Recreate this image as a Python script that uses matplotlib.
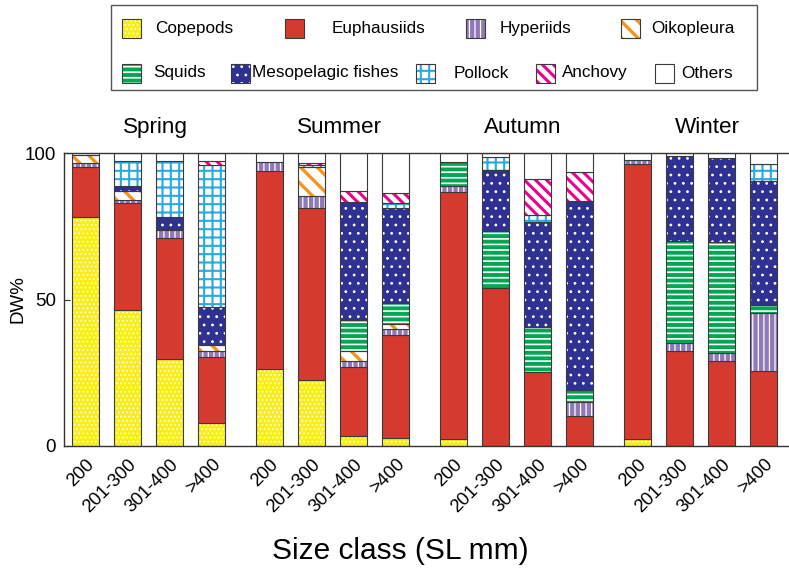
import numpy as np
import matplotlib
matplotlib.use("Agg")
import matplotlib.pyplot as plt
from matplotlib.patches import Rectangle

plt.rcParams['font.family'] = ['Liberation Sans', 'DejaVu Sans']

seasons = ["Spring", "Summer", "Autumn", "Winter"]
size_classes = ["200", "201-300", "301-400", ">400"]
categories = ["Copepods", "Euphausiids", "Hyperiids", "Oikopleura", "Squids",
              "Mesopelagic fishes", "Pollock", "Anchovy", "Others"]

# values (DW%) per bar: Spring(4), Summer(4), Autumn(4), Winter(4)
copepods    = [78.0, 46.4, 29.7, 7.7,   26.3, 22.6, 3.3, 2.7,   2.4, 0.0, 0.0, 0.0,   2.3, 0.0, 0.0, 0.0]
euphausiids = [17.1, 36.4, 41.2, 22.6,  67.7, 58.5, 23.6, 35.2, 84.4, 53.8, 25.2, 10.1, 93.9, 32.5, 28.9, 25.7]
hyperiids   = [1.4, 1.2, 2.8, 2.0,      2.8, 4.3, 2.2, 2.0,     1.8, 0.0, 0.0, 5.0,   1.4, 2.5, 2.7, 19.6]
oikopleura  = [2.8, 3.1, 0.5, 2.1,      0.0, 9.7, 3.2, 1.6,     0.0, 0.0, 0.0, 0.0,   0.0, 0.0, 0.0, 0.0]
squids      = [0.0, 0.0, 0.0, 0.0,      0.0, 0.0, 10.7, 7.4,    8.2, 19.7, 15.5, 4.1, 0.0, 34.9, 37.9, 2.9]
mesopelagic = [0.0, 1.7, 3.8, 12.9,     0.0, 0.0, 40.4, 32.3,   0.0, 20.7, 35.6, 64.3, 0.0, 29.0, 28.8, 42.3]
pollock     = [0.0, 8.6, 19.4, 48.7,    0.0, 0.9, 0.0, 1.6,     0.0, 4.3, 2.6, 0.0,   0.0, 0.0, 0.0, 5.7]
anchovy     = [0.0, 0.0, 0.0, 1.4,      0.0, 0.7, 3.7, 3.7,     0.0, 0.0, 12.2, 10.0, 0.0, 0.0, 0.0, 0.0]
others      = [0.7, 2.6, 2.6, 2.6,      3.2, 3.3, 12.9, 13.5,   3.2, 1.5, 8.9, 6.5,   2.4, 1.1, 1.7, 3.8]

series = [copepods, euphausiids, hyperiids, oikopleura, squids, mesopelagic, pollock, anchovy, others]

# style per category: facecolor, hatch, hatchcolor, hatch linewidth
styles = [
    ("#F8EE1E", "....", "white", 0.6),
    ("#D63A2F", "", "#D63A2F", 0.0),
    ("#8F79BA", "|||", "white", 0.9),
    ("white", "\\\\", "#F7941D", 2.4),
    ("white", "---", "#00A651", 2.8),
    ("#2E3192", "..", "white", 0.8),
    ("white", "++", "#29AAE1", 1.5),
    ("white", "\\\\\\", "#EC008C", 2.2),
    ("white", "", "white", 0.0),
]
edge_col = "#3a3a3a"

W, H = 789, 569
fig = plt.figure(figsize=(W / 100, H / 100), dpi=100)
ax = fig.add_axes([64.3 / W, 1 - 446 / H, 1 - 64.3 / W, (446 - 153) / H])

group_step = 4.38
pos = np.array([g * group_step + j for g in range(4) for j in range(4)])
bw = 0.643


def styled_bar(x, h, b, st):
    fc, hatch, hc, hlw = st
    with plt.rc_context({'hatch.linewidth': hlw if hlw > 0 else 1.0}):
        bars = ax.bar(x, h, bw, bottom=b, color=fc,
                      hatch=hatch if hatch else None, edgecolor=hc, linewidth=0)
    for p in bars:
        if hasattr(p, "set_hatch_linewidth") and hlw > 0:
            p.set_hatch_linewidth(hlw)
    return bars


bottom = np.zeros(len(pos))
for vals, st in zip(series, styles):
    v = np.array(vals)
    m = v > 0
    styled_bar(pos[m], v[m], bottom[m], st)
    ax.bar(pos[m], v[m], bw, bottom=bottom[m], fill=False, edgecolor=edge_col, linewidth=0.8)
    bottom += v

ax.set_xlim(-0.51, 16.74)
ax.set_ylim(0, 100)
ax.spines['right'].set_visible(False)
for s in ['left', 'bottom', 'top']:
    ax.spines[s].set_color('#333333')
    ax.spines[s].set_linewidth(1.0)
ax.set_yticks([0, 50, 100])
ax.tick_params(axis='y', direction='in', length=4, labelsize=13.5, pad=6, color='#333333')
ax.set_xticks(pos)
ax.set_xticklabels(size_classes * 4, rotation=45, ha='right', rotation_mode='anchor', fontsize=13.2)
ax.tick_params(axis='x', length=0, pad=7)
ax.set_ylabel("DW%", fontsize=13.5)
ax.yaxis.set_label_coords(-38 / (W - 64.3), 0.5)

for g, name in enumerate(seasons):
    ax.text(g * group_step + 1.5 + 0.15, 108.6, name, ha='center', va='center',
            fontsize=16.2, clip_on=False)

fig.text(400 / W, 1 - 551 / H, "Size class (SL mm)", ha='center', va='center', fontsize=21.5)

# legend (manual layout)
fig.add_artist(Rectangle((111 / W, 1 - 90 / H), (757 - 111) / W, (90 - 5) / H,
                         transform=fig.transFigure, fill=False, edgecolor='#555555', linewidth=1.0))
leg_items = [
    (0, 122, 155, 28), (1, 285, 332, 28), (2, 466, 500, 28), (3, 621, 651, 28),
    (4, 122, 153, 73), (5, 231, 252, 73), (6, 416, 454, 73), (7, 536, 562, 73), (8, 655, 681, 73),
]
ps = 19
for idx, px, tx, cy in leg_items:
    fc, hatch, hc, hlw = styles[idx]
    with plt.rc_context({'hatch.linewidth': hlw if hlw > 0 else 1.0}):
        r = Rectangle((px / W, 1 - (cy + ps / 2) / H), ps / W, ps / H, transform=fig.transFigure,
                      facecolor=fc, hatch=hatch if hatch else None, edgecolor=hc, linewidth=0)
    if hasattr(r, "set_hatch_linewidth") and hlw > 0:
        r.set_hatch_linewidth(hlw)
    fig.add_artist(r)
    fig.add_artist(Rectangle((px / W, 1 - (cy + ps / 2) / H), ps / W, ps / H, transform=fig.transFigure,
                             fill=False, edgecolor=edge_col, linewidth=0.8))
    fig.text(tx / W, 1 - cy / H, categories[idx], ha='left', va='center', fontsize=12.3)

fig.savefig("out.png", dpi=100)
